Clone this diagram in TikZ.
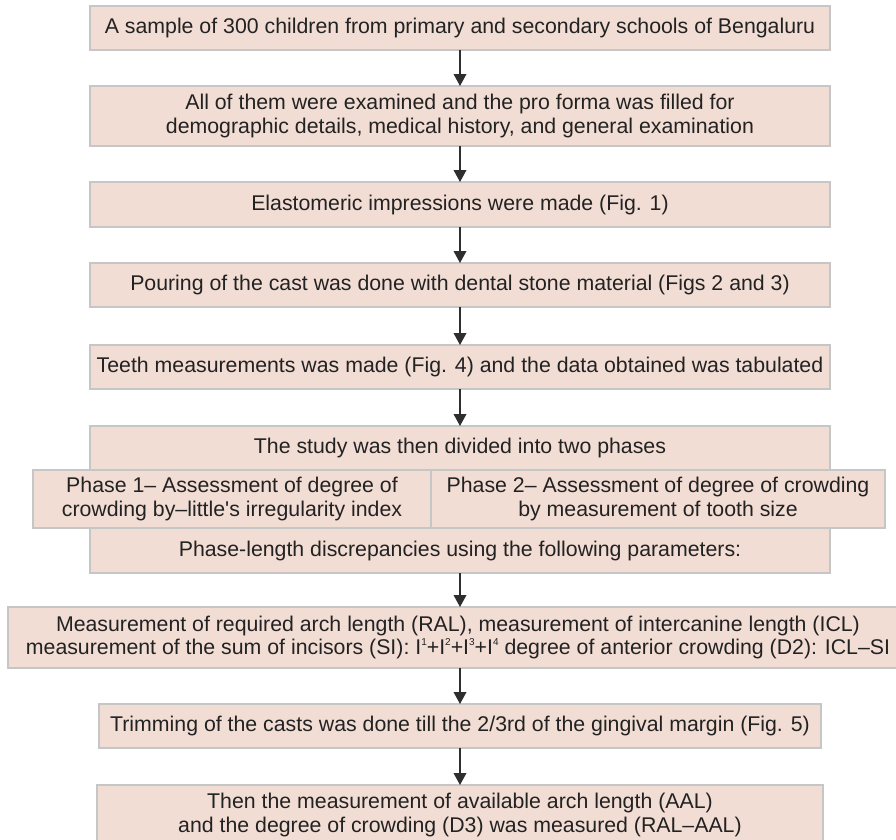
\documentclass[tikz,border=0pt]{standalone}
\usepackage{fontspec}
\newfontfamily\arialf{Liberation Sans}
\usetikzlibrary{arrows.meta}
\definecolor{boxfill}{HTML}{F2DDD5}
\definecolor{boxline}{HTML}{C6C6C6}
\definecolor{txt}{HTML}{222222}
\definecolor{arr}{HTML}{2E2E2E}
\newcommand{\supnum}[1]{\raisebox{0.85ex}{\fontsize{10}{10}\selectfont #1}}
\begin{document}
\begin{tikzpicture}[x=1pt,y=-1pt,
  flowbox/.style={draw=boxline,line width=1.2pt,fill=boxfill,inner sep=0pt,outer sep=0pt,
    align=center,text=txt,font=\arialf\fontsize{21.3}{23.5}\selectfont},
  flowarrow/.style={draw=arr,line width=1.3pt,-{Triangle[width=12.7pt,length=12pt]}}]
\useasboundingbox (0,0) rectangle (896,839);
\fill[white] (0,0) rectangle (896,839);
\node[flowbox,minimum width=740pt,minimum height=44pt] (b1) at (460,28)
  {A sample of 300 children from primary and secondary schools of Bengaluru};
\node[flowbox,minimum width=740pt,minimum height=60pt] (b2) at (460,116)
  {All of them were examined and the pro forma was filled for\\demographic details, medical history, and general examination};
\node[flowbox,minimum width=740pt,minimum height=45pt] (b3) at (460,204.5)
  {Elastomeric impressions were made (Fig. 1)};
\node[flowbox,minimum width=740pt,minimum height=44pt] (b4) at (460,285)
  {Pouring of the cast was done with dental stone material (Figs 2 and 3)};
\node[flowbox,minimum width=740pt,minimum height=44pt] (b5) at (460,367)
  {Teeth measurements was made (Fig. 4) and the data obtained was tabulated};
\node[flowbox,minimum width=740pt,minimum height=44pt] (study) at (460,448)
  {The study was then divided into two phases};
\node[flowbox,minimum width=740pt,minimum height=45pt] (plen) at (460,550.5)
  {Phase-length discrepancies using the following parameters:};
\node[flowbox,minimum width=398pt,minimum height=58pt] (ph1) at (232,499)
  {Phase 1– Assessment of degree of\\crowding by–little's irregularity index};
\node[flowbox,minimum width=454pt,minimum height=58pt] (ph2) at (658,499)
  {Phase 2– Assessment of degree of crowding\\by measurement of tooth size};
\node[flowbox,minimum width=900pt,minimum height=61pt] (meas) at (458,637.5)
  {Measurement of required arch length (RAL), measurement of intercanine length (ICL)\\
   measurement of the sum of incisors (SI): I\supnum{1}+I\supnum{2}+I\supnum{3}+I\supnum{4} degree of anterior crowding (D2): ICL–SI};
\node[flowbox,minimum width=722pt,minimum height=44pt] (trim) at (460,726)
  {Trimming of the casts was done till the 2/3rd of the gingival margin (Fig. 5)};
\node[flowbox,minimum width=726pt,minimum height=60pt] (last) at (460,815)
  {Then the measurement of available arch length (AAL)\\and the degree of crowding (D3) was measured (RAL–AAL)};
\draw[flowarrow] (b1.south) -- (b2.north);
\draw[flowarrow] (b2.south) -- (b3.north);
\draw[flowarrow] (b3.south) -- (b4.north);
\draw[flowarrow] (b4.south) -- (b5.north);
\draw[flowarrow] (b5.south) -- (study.north);
\draw[flowarrow] (plen.south) -- (meas.north-|plen.south);
\draw[flowarrow] (meas.south-|plen.south) -- (trim.north);
\draw[flowarrow] (trim.south) -- (last.north);
\end{tikzpicture}
\end{document}
